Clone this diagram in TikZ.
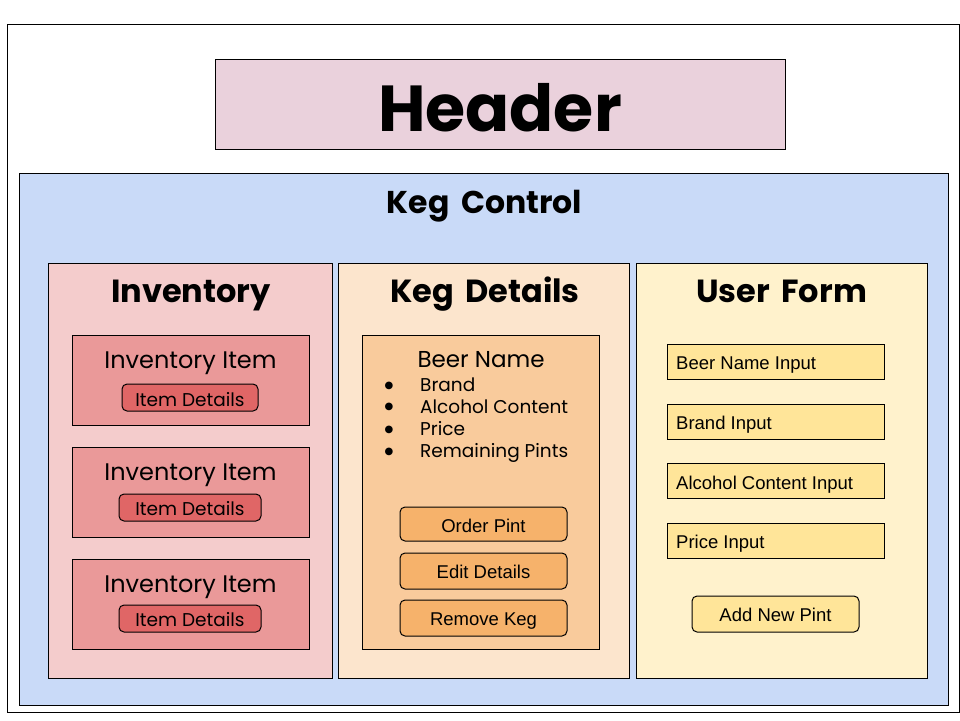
\documentclass[tikz,border=0pt]{standalone}
\usepackage{fontspec}
\setmainfont{Poppins}[BoldFeatures={WordSpace=1.7}]
\newfontfamily\arialf{Liberation Sans}
\newfontfamily\dejavuf{DejaVu Sans}
\definecolor{hdr}{HTML}{EAD1DC}
\definecolor{kegc}{HTML}{C9DAF8}
\definecolor{invp}{HTML}{F4CCCC}
\definecolor{invi}{HTML}{EA9999}
\definecolor{invb}{HTML}{E06666}
\definecolor{kdp}{HTML}{FCE5CD}
\definecolor{kdi}{HTML}{F9CB9C}
\definecolor{kdb}{HTML}{F6B26B}
\definecolor{ufp}{HTML}{FFF2CC}
\definecolor{ufi}{HTML}{FFE599}
\tikzset{
  pbox/.style={draw=black, line width=1pt, inner sep=0pt, rectangle},
  rbox/.style={pbox, rounded corners=5pt},
  txt/.style={inner sep=0pt, anchor=base},
  ltxt/.style={inner sep=0pt, anchor=base west},
}
\begin{document}
\begin{tikzpicture}[x=1pt,y=-1pt]
\useasboundingbox (0,0) rectangle (960,720);
\fill[white] (0,0) rectangle (960,720);
% outer frame
\node[pbox, fill=white, minimum width=952pt, minimum height=688pt] (frame) at (483,368) {};
% header
\node[pbox, fill=hdr, minimum width=570pt, minimum height=90pt] (header) at (500,104) {};
\node[txt, font=\fontsize{65}{65}\selectfont\bfseries] (headert) at (500,131) {Header};
% keg control
\node[pbox, fill=kegc, minimum width=929pt, minimum height=532pt] (kc) at (483.5,439) {};
\node[txt, font=\fontsize{31.5}{31.5}\selectfont\bfseries] (kct) at (484.5,213) {Keg Control};
% panels
\node[pbox, fill=invp, minimum width=284pt, minimum height=415pt] (inv) at (190,470.5) {};
\node[pbox, fill=kdp, minimum width=291pt, minimum height=415pt] (kd) at (483.5,470.5) {};
\node[pbox, fill=ufp, minimum width=291pt, minimum height=415pt] (uf) at (781.5,470.5) {};
\node[txt, font=\fontsize{32}{32}\selectfont\bfseries] (invt) at (191,302.5) {Inventory};
\node[txt, font=\fontsize{32}{32}\selectfont\bfseries] (kdt) at (485,302.5) {Keg Details};
\node[txt, font=\fontsize{32}{32}\selectfont\bfseries] (uft) at (781.5,302.5) {User Form};
% inventory items
\foreach \i/\cy/\by/\bw/\bb in {1/380/397.5/136/406, 2/492/507.5/142/515.5, 3/604/618.5/142/626}{
  \node[pbox, fill=invi, minimum width=237pt, minimum height=90pt] (item\i) at (190.5,\cy) {};
  \node[txt, font=\fontsize{24}{24}\selectfont] (itemt\i) at (190.5,\cy-12) {Inventory Item};
  \node[rbox, fill=invb, minimum width=\bw pt, minimum height=27pt] (itemb\i) at (190,\by) {};
  \node[txt, font=\fontsize{18.5}{18.5}\selectfont] (itembt\i) at (190,\bb) {Item Details};
}
% keg details inner
\node[pbox, fill=kdi, minimum width=237pt, minimum height=314pt] (kdin) at (480.5,492) {};
\node[txt, font=\fontsize{23}{23}\selectfont] (beer) at (481,367) {Beer Name};
\foreach \j/\t/\b/\c in {1/Brand/391/385.7, 2/Alcohol Content/413.3/407, 3/Price/435.7/429.7, 4/Remaining Pints/457.3/451.7}{
  \node[inner sep=0pt, font=\dejavuf\fontsize{10}{10}\selectfont] (bul\j) at (389,\c) {●};
  \node[ltxt, font=\fontsize{18.5}{18.5}\selectfont] (li\j) at (420,\b) {\t};
}
\node[rbox, fill=kdb, minimum width=167pt, minimum height=34pt] (order) at (483.5,524) {};
\node[txt, font=\arialf\fontsize{18.5}{18.5}\selectfont] (ordert) at (483.5,532) {Order Pint};
\node[rbox, fill=kdb, minimum width=167pt, minimum height=36pt] (edit) at (483.5,571) {};
\node[txt, font=\arialf\fontsize{18.5}{18.5}\selectfont] (editt) at (483.5,578.3) {Edit Details};
\node[rbox, fill=kdb, minimum width=167pt, minimum height=36pt] (remove) at (483.5,618) {};
\node[txt, font=\arialf\fontsize{18.5}{18.5}\selectfont] (removet) at (483.5,625.7) {Remove Keg};
% user form
\foreach \k/\cy/\b/\t in {1/361.5/369/Beer Name Input, 2/421.5/429.7/Brand Input, 3/481/489/Alcohol Content Input, 4/540.5/548.3/Price Input}{
  \node[pbox, fill=ufi, minimum width=217pt, minimum height=35pt] (in\k) at (775.5,\cy) {};
  \node[ltxt, font=\arialf\fontsize{18.5}{18.5}\selectfont] (int\k) at (676,\b) {\t};
}
\node[rbox, fill=ufi, minimum width=167pt, minimum height=36pt] (add) at (775.5,614) {};
\node[txt, font=\arialf\fontsize{18.5}{18.5}\selectfont] (addt) at (775.5,621) {Add New Pint};
\end{tikzpicture}
\end{document}
